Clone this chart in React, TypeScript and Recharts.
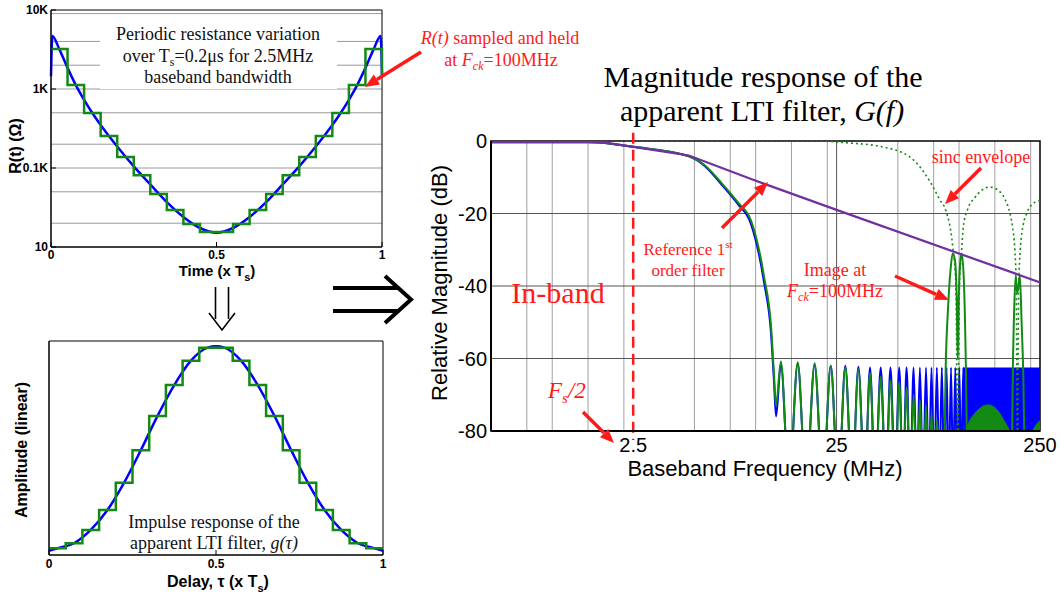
import React from "react";
import {
  Area,
  CartesianGrid,
  ComposedChart,
  Line,
  LineChart,
  ReferenceArea,
  ReferenceLine,
  XAxis,
  YAxis
} from "recharts";

const SANS = "'Liberation Sans', Arial, sans-serif";
const SERIF = "'Liberation Serif', 'Times New Roman', serif";
const RED = "#ff1a1a";
const BLUE = "#0000ff";
const GREEN = "#138a13";
const PURPLE = "#7030a0";

// R(t) over one period, continuous and sampled & held
const rTime = [0, 0.004, 0.025, 0.05, 0.075, 0.1, 0.125, 0.15, 0.175, 0.2, 0.25, 0.3, 0.35, 0.4, 0.45, 0.5, 0.55, 0.6, 0.65, 0.7, 0.75, 0.8, 0.825, 0.85, 0.875, 0.9, 0.925, 0.95, 0.975, 0.996, 1];
const rOhm = [1450, 4700, 3200, 1850, 1120, 730, 497, 350, 254, 187, 105, 62, 37, 24, 17.4, 15.2, 17.4, 24, 37, 62, 105, 187, 254, 350, 497, 730, 1120, 1850, 3200, 4700, 1450];
const heldTime = [0, 0.05, 0.1, 0.15, 0.2, 0.25, 0.3, 0.35, 0.4, 0.45, 0.5, 0.55, 0.6, 0.65, 0.7, 0.75, 0.8, 0.85, 0.9, 0.95, 1, 1];
const heldOhm = [3200, 1120, 497, 254, 138, 81, 47, 29.5, 19.5, 15.5, 15.5, 19.5, 29.5, 47, 81, 138, 254, 497, 1120, 3200, 3200, 1450];
const rTicks = [10, 100, 1000, 10000];
const rGrid = [20, 30, 40, 50, 60, 70, 80, 90, 100, 200, 300, 400, 500, 600, 700, 800, 900, 1000, 2000, 3000, 4000, 5000, 6000, 7000, 8000, 9000];
const timeTicks = [0, 0.5, 1];

// impulse response g(tau)
const gDelay = [0, 0.025, 0.075, 0.125, 0.175, 0.225, 0.275, 0.325, 0.375, 0.425, 0.475, 0.5, 0.525, 0.575, 0.625, 0.675, 0.725, 0.775, 0.825, 0.875, 0.925, 0.975, 1];
const gAmp = [0.02, 0.031, 0.055, 0.117, 0.21, 0.338, 0.49, 0.65, 0.794, 0.908, 0.969, 0.975, 0.969, 0.908, 0.794, 0.65, 0.49, 0.338, 0.21, 0.117, 0.055, 0.031, 0.02];
const gHeldAmp = [0.031, 0.055, 0.117, 0.21, 0.338, 0.49, 0.65, 0.794, 0.908, 0.969, 0.969, 0.908, 0.794, 0.65, 0.49, 0.338, 0.21, 0.117, 0.055, 0.031, 0.031];

// G(f) magnitude response
const NULL_DB = -95;
const mainFreq = [0.5, 1.5, 2.5, 4.7, 5.6, 6.8, 8.2, 9.5, 11.0, 11.9, 12.3, 12.6];
const blueMainDb = [-0.3, -0.3, -1.6, -4.2, -6.8, -12, -17.5, -23, -39, -53, -66, -76];
const greenMainDb = [-0.3, -0.3, -1.6, -4.2, -6.6, -11.6, -17, -22, -37.4, -51, -64, -73];
const lobePeakFreq = [13.3, 16.1, 19.5, 23.4, 27.6, 32.0, 36.5, 41.2, 46.0, 50.8, 55.2, 59.8, 64.2, 68.8, 73.2, 77.8, 82.3, 86.8, 91.3, 95.8, 100.3, 104.8];
const lobeNullFreq = [14.6, 17.7, 21.4, 25.5, 29.8, 34.4, 38.7, 43.7, 48.5, 53.0, 57.5, 62.0, 66.5, 71.0, 75.5, 80.0, 84.5, 89.0, 93.5, 98.0, 102.5, 107.0];
const bluePeakDb = [-61.5, -61.5, -61.8, -62, -62, -62.3, -62.5, -62.5, -62.5, -62.5, -62.5, -62.5, -62.5, -62.5, -62.5, -62.5, -62.5, -62.5, -62.5, -62.5, -62.5, -62.5];
const greenPeakDb = [-60.8, -61, -61.3, -62, -62.5, -63, -64, -65, -66, -66.5, -68, -70, -71.5, -73, -75, -77];
const blueBandFreq = [105, 250];
const blueBandTop = [-62.5, -62.5];
const image1Freq = [84, 86, 88.5, 91, 93, 95.5, 97.5, 98.5, 99.5, 101.5, 103, 105.5, 108, 110];
const image1Db = [-95, -62, -45, -35, -31, -33, -45, -60, -45, -33, -31, -38, -62, -95];
const image2Freq = [181, 184, 187, 190, 193, 196, 199, 203, 207, 211];
const image2Db = [-95, -62, -45, -37, -42, -40, -37, -50, -65, -95];
const humpFreq = [108, 112, 118, 125, 133, 140, 148, 158, 168, 178];
const humpDb = [-80, -77.5, -75.5, -74, -73, -72.8, -73.3, -75, -77.5, -80];
const tailFreq = [230, 238, 245, 250];
const tailDb = [-80, -78.5, -77.6, -77.2];
const sincFreq = [0.5, 20, 28, 41, 57, 72.5, 80.6, 86, 93, 96.5, 98.5, 100.5, 103, 105, 110, 120, 130, 141, 155, 168, 178, 183, 188, 191, 193.5, 196.5, 200, 207, 215, 228, 240, 250];
const sincDb = [0, 0, -0.5, -1.5, -4.3, -11.5, -16.3, -19.1, -29, -40, -85, -40, -30, -23.6, -19, -15.5, -13.5, -12.7, -13.5, -16, -20, -23.6, -30, -40, -85, -40, -30, -23, -20, -17.5, -16.7, -16.5];
const refFreq = [0.5, 1.8, 2.5, 4.7, 9.5, 25, 250];
const refDb = [-0.4, -0.4, -1.6, -4, -10.5, -19, -39];
const freqTicks = [2.5, 25, 250];
const dbTicks = [-80, -60, -40, -20, 0];
const freqGridMinor = [0.75, 1, 1.25, 1.5, 1.75, 2, 2.25, 5, 7.5, 10, 12.5, 15, 17.5, 20, 22.5, 50, 75, 100, 125, 150, 175, 200, 225];

const pts = (xs: number[], ys: number[], kx: string, ky: string) =>
  xs.map((x, i) => ({ [kx]: x, [ky]: ys[i] }));

// one peak then one null per side lobe
const lobes = (peakDb: number[]) =>
  peakDb.flatMap((db, i) => [
    { f: lobePeakFreq[i], db },
    { f: lobeNullFreq[i], db: NULL_DB }
  ]);

const rContinuous = pts(rTime, rOhm, "t", "r");
const rHeld = pts(heldTime, heldOhm, "t", "r");
const gContinuous = pts(gDelay, gAmp, "t", "a");
const gHeld = pts(heldTime.slice(0, 21), gHeldAmp, "t", "a");

const blueResp = [...pts(mainFreq, blueMainDb, "f", "db"), ...lobes(bluePeakDb)];
const greenResp = [...pts(mainFreq, greenMainDb, "f", "db"), ...lobes(greenPeakDb)];
const blueBand = blueBandFreq.map((f, i) => ({ f, r: [-80, blueBandTop[i]] }));
const greenHump = humpFreq.map((f, i) => ({ f, r: [-80, humpDb[i]] }));
const greenTail = tailFreq.map((f, i) => ({ f, r: [-80, tailDb[i]] }));

const leftTick = { fontSize: 12, fontWeight: 700, fill: "#000", fontFamily: SANS };
const rightTick = { fontSize: 20, fill: "#000", fontFamily: SANS };

function Arrow({ x1, y1, x2, y2, color = RED, width = 3.5, head = 14 }: any) {
  const a = Math.atan2(y2 - y1, x2 - x1);
  const bx = x2 - head * Math.cos(a);
  const by = y2 - head * Math.sin(a);
  const hw = head * 0.42;
  const px = -Math.sin(a) * hw;
  const py = Math.cos(a) * hw;
  return (
    <g>
      <line x1={x1} y1={y1} x2={bx} y2={by} stroke={color} strokeWidth={width} />
      <polygon points={`${x2},${y2} ${bx + px},${by + py} ${bx - px},${by - py}`} fill={color} />
    </g>
  );
}

function ResistancePlot() {
  const fmt = (v: number) => (v >= 10000 ? "10K" : v >= 1000 ? "1K" : v >= 100 ? "0.1K" : "10");
  return (
    <LineChart width={390} height={290} margin={{ top: 10, right: 8, bottom: 13, left: 0 }}>
      <CartesianGrid horizontalValues={rGrid} vertical={false} stroke="#9a9a9a" />
      <XAxis dataKey="t" type="number" domain={[0, 1]} ticks={timeTicks} tick={leftTick} tickLine={{ stroke: "#000" }} tickSize={-5} tickMargin={8} height={30} stroke="#000" />
      <YAxis type="number" scale="log" domain={[10, 10000]} allowDataOverflow ticks={rTicks} tickFormatter={fmt} tick={leftTick} tickLine={{ stroke: "#000" }} tickSize={-5} tickMargin={8} width={51} stroke="#000" />
      <ReferenceArea x1={0} x2={1} y1={10} y2={10000} fill="none" stroke="#000" strokeWidth={1} />
      <Line data={rContinuous} dataKey="r" type="monotone" stroke={BLUE} strokeWidth={2.5} dot={false} isAnimationActive={false} />
      <Line data={rHeld} dataKey="r" type="stepAfter" stroke={GREEN} strokeWidth={2.5} dot={false} isAnimationActive={false} />
    </LineChart>
  );
}

function ImpulsePlot() {
  return (
    <LineChart width={390} height={260} margin={{ top: 11, right: 7, bottom: 10, left: 0 }}>
      <XAxis dataKey="t" type="number" domain={[0, 1]} ticks={timeTicks} tick={leftTick} tickLine={{ stroke: "#000" }} tickSize={-5} tickMargin={9} height={25} stroke="#000" />
      <YAxis type="number" domain={[0, 1]} tick={false} tickLine={false} width={49} stroke="#000" />
      <ReferenceArea x1={0} x2={1} y1={0} y2={1} fill="none" stroke="#000" strokeWidth={1} />
      <Line data={gContinuous} dataKey="a" type="monotone" stroke={BLUE} strokeWidth={2.5} dot={false} isAnimationActive={false} />
      <Line data={gHeld} dataKey="a" type="stepAfter" stroke={GREEN} strokeWidth={2.5} dot={false} isAnimationActive={false} />
    </LineChart>
  );
}

function MagnitudePlot() {
  return (
    <ComposedChart width={640} height={360} margin={{ top: 21, right: 20, bottom: 19, left: 0 }}>
      <CartesianGrid verticalValues={freqGridMinor} horizontal={false} stroke="#a0a0a0" />
      <CartesianGrid verticalValues={[25]} horizontalValues={[-20, -40, -60]} stroke="#555" />
      <XAxis dataKey="f" type="number" scale="log" domain={[0.5, 250]} allowDataOverflow ticks={freqTicks} tick={rightTick} tickLine={false} tickSize={0} tickMargin={7} height={30} stroke="#000" strokeWidth={2} />
      <YAxis type="number" domain={[-80, 0]} allowDataOverflow ticks={dbTicks} tick={rightTick} tickLine={false} tickSize={0} tickMargin={4} width={71} stroke="#000" strokeWidth={2} />
      <ReferenceArea x1={0.5} x2={250} y1={-80} y2={0} fill="none" stroke="#000" strokeWidth={1.5} />
      <Line data={blueResp} dataKey="db" type="monotone" stroke={BLUE} strokeWidth={2} dot={false} isAnimationActive={false} />
      <Area data={blueBand} dataKey="r" type="linear" stroke="none" fill={BLUE} fillOpacity={1} isAnimationActive={false} />
      <Line data={greenResp} dataKey="db" type="monotone" stroke={GREEN} strokeWidth={2} dot={false} isAnimationActive={false} />
      <Line data={pts(image1Freq, image1Db, "f", "db")} dataKey="db" type="monotone" stroke={GREEN} strokeWidth={2} dot={false} isAnimationActive={false} />
      <Line data={pts(image2Freq, image2Db, "f", "db")} dataKey="db" type="monotone" stroke={GREEN} strokeWidth={2} dot={false} isAnimationActive={false} />
      <Area data={greenHump} dataKey="r" type="monotone" stroke={GREEN} fill={GREEN} fillOpacity={1} isAnimationActive={false} />
      <Area data={greenTail} dataKey="r" type="monotone" stroke={GREEN} fill={GREEN} fillOpacity={1} isAnimationActive={false} />
      <Line data={pts(sincFreq, sincDb, "f", "db")} dataKey="db" type="monotone" stroke={GREEN} strokeWidth={1.6} strokeDasharray="2 3" dot={false} isAnimationActive={false} />
      <Line data={pts(refFreq, refDb, "f", "db")} dataKey="db" type="linear" stroke={PURPLE} strokeWidth={2.2} dot={false} isAnimationActive={false} />
      <ReferenceLine segment={[{ x: 2.5, y: 2.3 }, { x: 2.5, y: -82.5 }]} ifOverflow="visible" stroke={RED} strokeWidth={2.5} strokeDasharray="11 6" />
    </ComposedChart>
  );
}

function Overlay() {
  const serif = { fontFamily: SERIF };
  const bold = { fontFamily: SANS, fontWeight: 700, fontSize: 16 };
  return (
    <svg width={1060} height={599} style={{ position: "absolute", left: 0, top: 0, pointerEvents: "none" }}>
      {/* text box inside R(t) plot */}
      <rect x={100} y={15} width={237} height={74} fill="#fff" />
      <g {...serif} fontSize={18} textAnchor="middle" fill="#111">
        <text x={218} y={40}>Periodic resistance variation</text>
        <text x={218} y={62}>
          over T<tspan fontSize={12} dy={4}>s</tspan>
          <tspan dy={-4}>=0.2μs for 2.5MHz</tspan>
        </text>
        <text x={218} y={83}>baseband bandwidth</text>
        <text x={214} y={528}>Impulse response of the</text>
        <text x={214} y={549}>
          apparent LTI filter, <tspan fontStyle="italic">g(τ)</tspan>
        </text>
      </g>

      {/* left axis labels */}
      <text {...bold} transform="translate(21,146) rotate(-90)" textAnchor="middle">R(t) (Ω)</text>
      <text {...bold} fontSize={15} x={217} y={276} textAnchor="middle">
        Time (x T<tspan fontSize={11} dy={5}>s</tspan>
        <tspan dy={-5}>)</tspan>
      </text>
      <text {...bold} transform="translate(27,450) rotate(-90)" textAnchor="middle">Amplitude (linear)</text>
      <text {...bold} x={218} y={587} textAnchor="middle">
        Delay, τ (x T<tspan fontSize={11} dy={5}>s</tspan>
        <tspan dy={-5}>)</tspan>
      </text>

      {/* sampled and held note */}
      <g {...serif} fontSize={18} textAnchor="middle" fill={RED}>
        <text x={500} y={44}>
          <tspan fontStyle="italic">R(t)</tspan> sampled and held
        </text>
        <text x={501} y={66}>
          at <tspan fontStyle="italic">F</tspan>
          <tspan fontStyle="italic" fontSize={12} dy={4}>ck</tspan>
          <tspan dy={-4}>=100MHz</tspan>
        </text>
      </g>
      <Arrow x1={421} y1={52} x2={365} y2={87} />

      {/* flow arrows */}
      <g stroke="#000" fill="none" strokeWidth={1.6}>
        <line x1={215.5} y1={287} x2={215.5} y2={319} />
        <line x1={228.5} y1={287} x2={228.5} y2={319} />
        <polyline points="209,313 222,330 235,313" />
      </g>
      <g stroke="#000" fill="none" strokeWidth={4}>
        <line x1={333} y1={288} x2={398} y2={288} />
        <line x1={333} y1={311} x2={398} y2={311} />
        <polyline points="385,276 411,299.5 385,323" />
      </g>

      {/* right plot title and labels */}
      <g {...serif} fontSize={30} textAnchor="middle" fill="#000">
        <text x={763} y={87}>Magnitude response of the</text>
        <text x={762} y={121}>
          apparent LTI filter, <tspan fontStyle="italic">G(f)</tspan>
        </text>
      </g>
      <text fontFamily={SANS} fontSize={22} transform="translate(447,283) rotate(-90)" textAnchor="middle">Relative Magnitude (dB)</text>
      <text fontFamily={SANS} fontSize={22} x={765} y={476} textAnchor="middle">Baseband Frequency (MHz)</text>

      {/* right plot annotations */}
      <g {...serif} fill={RED}>
        <text x={558} y={303} fontSize={30} textAnchor="middle">In-band</text>
        <text x={548} y={398} fontSize={23} fontStyle="italic">
          F<tspan fontSize={15} dy={5}>s</tspan>
          <tspan dy={-5}>/2</tspan>
        </text>
        <text x={688} y={255} fontSize={17} textAnchor="middle">
          Reference 1<tspan fontSize={11} dy={-7}>st</tspan>
        </text>
        <text x={688} y={276} fontSize={17} textAnchor="middle">order filter</text>
        <text x={835} y={276} fontSize={18} textAnchor="middle">Image at</text>
        <text x={835} y={297} fontSize={18} textAnchor="middle">
          <tspan fontStyle="italic">F</tspan>
          <tspan fontStyle="italic" fontSize={12} dy={4}>ck</tspan>
          <tspan dy={-4}>=100MHz</tspan>
        </text>
        <text x={981} y={163} fontSize={18} textAnchor="middle">sinc envelope</text>
      </g>
      <Arrow x1={583} y1={412} x2={614} y2={443} />
      <Arrow x1={722} y1={228} x2={768} y2={182} />
      <Arrow x1={895} y1={276} x2={949} y2={300} />
      <Arrow x1={981} y1={168} x2={945} y2={204} />
    </svg>
  );
}

export default function App() {
  return (
    <div style={{ position: "absolute", left: 0, top: 0, width: 1060, height: 599, background: "#fff", overflow: "hidden" }}>
      <div style={{ position: "absolute", left: 0, top: 0 }}>
        <ResistancePlot />
      </div>
      <div style={{ position: "absolute", left: 0, top: 330 }}>
        <ImpulsePlot />
      </div>
      <div style={{ position: "absolute", left: 420, top: 120 }}>
        <MagnitudePlot />
      </div>
      <Overlay />
    </div>
  );
}
